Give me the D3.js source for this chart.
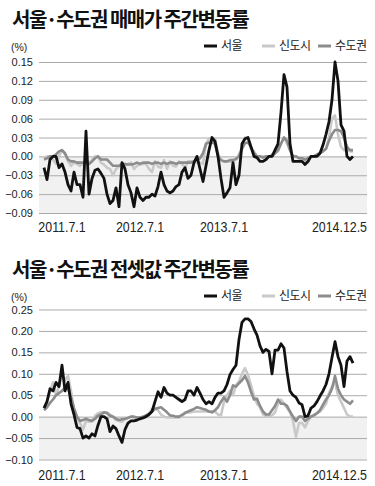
<!DOCTYPE html>
<html>
<head>
<meta charset="utf-8">
<script src="https://cdn.jsdelivr.net/npm/d3@7"></script>
<style>
  body { margin: 0; background: #fff; }
  text { font-family: "Liberation Sans", Arial, sans-serif; }
  .kr { font-family: "Noto Sans CJK KR", "Noto Sans", sans-serif; }
</style>
</head>
<body>
<svg id="chart"></svg>
<script>
const width = 375;
const height = 486;

// series names and colours follow the legend order
const seriesNames = ["서울", "신도시", "수도권"];
const seriesColors = ["#111", "#c9c9c9", "#8c8c8c"];

// x axis: week index of the samples the labels sit under
const xLabels = ["2011.7.1", "2012.7.1", "2013.7.1", "2014.12.5"];
const xLabelAt = [6, 32, 60, 99];

// 매매가 주간변동률 (%)
const saleSeoul = [
  -0.018, -0.037, -0.005, 0.0, 0.0, -0.018, -0.012, -0.025, -0.045, -0.055,
  -0.025, -0.045, -0.045, -0.065, 0.04, -0.06, -0.035, -0.022, -0.02, -0.027,
  -0.035, -0.06, -0.075, -0.07, -0.05, -0.08, -0.01, -0.02, -0.045, -0.058,
  -0.08, -0.05, -0.065, -0.07, -0.065, -0.065, -0.06, -0.063, -0.048, -0.025,
  -0.045, -0.055, -0.058, -0.055, -0.048, -0.045, -0.025, -0.018, -0.035, -0.03,
  -0.01, 0.0, -0.02, -0.04, -0.015, 0.01, 0.03, 0.024, 0.0, -0.035,
  -0.065, -0.058, -0.05, -0.01, -0.045, -0.03, 0.02, 0.028, 0.03, 0.015,
  0.0, -0.002, -0.008, -0.008, -0.005, 0.0, 0.0, 0.01, 0.02, 0.07,
  0.13, 0.11, 0.02, -0.008, -0.008, -0.008, -0.008, -0.013, -0.008, 0.0,
  0.0, 0.0, 0.005, 0.018, 0.035, 0.055, 0.09, 0.15, 0.12, 0.05,
  0.04, 0.0, -0.005, 0.0
];
const saleNewTown = [
  -0.003, 0.0, 0.0, -0.005, -0.012, 0.0, 0.01, 0.003, -0.008, -0.015,
  -0.01, -0.012, -0.015, -0.012, -0.01, -0.01, -0.006, 0.0, 0.0, -0.01,
  -0.013, -0.018, -0.02, -0.03, -0.02, -0.016, -0.012, -0.015, -0.012, -0.01,
  -0.02, -0.015, -0.013, -0.012, -0.012, -0.02, -0.025, -0.008, -0.016, -0.018,
  -0.006, -0.02, -0.008, -0.015, -0.016, -0.008, -0.012, -0.018, -0.008, -0.008,
  -0.008, -0.01, -0.01, -0.012, 0.02, 0.028, 0.03, 0.028, 0.005, -0.006,
  -0.008, -0.008, -0.008, -0.008, -0.005, 0.003, 0.015, 0.03, 0.028, 0.012,
  0.008, 0.0, 0.0, 0.0, 0.0, 0.0, 0.003, 0.005, 0.008, 0.02,
  0.03, 0.02, 0.01, 0.0, 0.0, -0.003, -0.005, -0.008, -0.01, 0.0,
  0.0, 0.003, 0.005, 0.008, 0.012, 0.03, 0.06, 0.065, 0.035, 0.015,
  0.01, 0.01, 0.008, 0.008
];
const saleMetro = [
  -0.005, -0.003, 0.0, 0.0, 0.003, 0.008, 0.01, 0.005, -0.005, -0.008,
  -0.008, -0.01, -0.01, -0.01, -0.01, -0.012, -0.008, -0.003, 0.0, -0.005,
  -0.005, -0.005, -0.01, -0.015, -0.015, -0.015, -0.012, -0.012, -0.013, -0.013,
  -0.012, -0.01, -0.012, -0.01, -0.01, -0.01, -0.012, -0.01, -0.01, -0.012,
  -0.01, -0.012, -0.01, -0.01, -0.012, -0.01, -0.01, -0.01, -0.01, -0.01,
  -0.008, -0.005, -0.003, 0.005, 0.02, 0.022, 0.022, 0.02, 0.0, -0.006,
  -0.008, -0.008, -0.006, -0.006, -0.004, 0.0, 0.012, 0.021, 0.022, 0.015,
  0.005, 0.0, 0.0, -0.002, 0.0, 0.0, 0.0, 0.005, 0.01, 0.02,
  0.03, 0.025, 0.01, 0.0, 0.0, -0.003, -0.003, -0.005, -0.003, 0.0,
  0.0, 0.003, 0.005, 0.008, 0.012, 0.025, 0.035, 0.042, 0.042, 0.04,
  0.03, 0.015, 0.01, 0.01
];

// 전셋값 주간변동률 (%)
const rentSeoul = [
  0.02, 0.035, 0.065, 0.06, 0.08, 0.07, 0.12, 0.06, 0.08, 0.03,
  0.005, -0.025, -0.028, -0.05, -0.045, -0.05, -0.04, -0.045, -0.02, 0.0,
  0.0, -0.005, -0.035, -0.022, -0.028, -0.045, -0.06, -0.03, -0.015, -0.01,
  -0.01, -0.008, -0.005, -0.003, 0.0, 0.005, 0.012, 0.035, 0.058, 0.045,
  0.068, 0.055, 0.05, 0.05, 0.045, 0.04, 0.035, 0.04, 0.06, 0.06,
  0.05, 0.068, 0.055, 0.04, 0.03, 0.035, 0.03, 0.045, 0.055, 0.055,
  0.06, 0.075, 0.098, 0.11, 0.12, 0.18, 0.22, 0.228, 0.228, 0.222,
  0.205, 0.19, 0.165, 0.15, 0.157, 0.152, 0.1, 0.155, 0.155, 0.17,
  0.16, 0.105, 0.06, 0.05, 0.045, 0.032, 0.028, 0.0, 0.002, 0.02,
  0.025, 0.035, 0.048, 0.06, 0.075, 0.1, 0.138, 0.175, 0.14, 0.12,
  0.07, 0.13, 0.14, 0.125
];
const rentNewTown = [
  0.02, 0.035, 0.06, 0.08, 0.05, 0.07, 0.1, 0.085, 0.095, 0.06,
  0.015, 0.0, -0.015, -0.03, -0.01, -0.012, -0.01, 0.002, 0.008, 0.01,
  0.01, 0.01, 0.005, 0.0, -0.008, -0.01, -0.012, -0.005, -0.002, 0.0,
  -0.002, -0.005, -0.003, 0.0, 0.003, 0.008, 0.018, 0.02, 0.015, 0.005,
  0.0, -0.002, -0.002, -0.002, -0.002, -0.002, 0.0, 0.01, 0.01, 0.01,
  0.012, 0.012, 0.012, 0.012, 0.012, 0.012, 0.012, 0.012, 0.005, 0.003,
  0.035, 0.05, 0.06, 0.05, 0.073, 0.082, 0.1, 0.113, 0.097, 0.073,
  0.048, 0.03, 0.022, 0.005, 0.0, 0.0, 0.003, 0.01, 0.03, 0.04,
  0.03, 0.02, 0.01, -0.01, -0.047, -0.015, -0.015, -0.025, -0.01, 0.0,
  0.005, 0.008, 0.012, 0.02, 0.03, 0.055, 0.07, 0.08, 0.05, 0.035,
  0.02, 0.005, 0.0, 0.0
];
const rentMetro = [
  0.015, 0.022, 0.032, 0.04, 0.05, 0.055, 0.06, 0.068, 0.065, 0.045,
  0.02, 0.0, -0.01, -0.008, -0.005, -0.008, -0.01, -0.005, 0.002, 0.005,
  0.01, 0.008, 0.002, 0.0, -0.005, -0.008, -0.006, -0.005, -0.003, 0.0,
  0.0, -0.002, -0.002, 0.0, 0.003, 0.006, 0.012, 0.018, 0.02, 0.022,
  0.016, 0.01, 0.003, 0.002, 0.0, 0.0, 0.004, 0.008, 0.012, 0.015,
  0.018, 0.022, 0.02, 0.018, 0.016, 0.012, 0.01, 0.015, 0.022, 0.035,
  0.045, 0.035, 0.05, 0.073, 0.07, 0.078, 0.085, 0.095, 0.08, 0.058,
  0.04, 0.042, 0.025, 0.012, 0.005, 0.005, 0.015, 0.025, 0.04, 0.03,
  0.03, 0.025, 0.012, 0.0, -0.01, 0.0, 0.0, -0.01, -0.005, 0.0,
  0.003, 0.008, 0.015, 0.028, 0.04, 0.05, 0.065, 0.095, 0.065, 0.05,
  0.04, 0.035, 0.03, 0.038
];

const saleTicks = [0.15, 0.12, 0.09, 0.06, 0.03, 0, -0.03, -0.06, -0.09];
const rentTicks = [0.25, 0.2, 0.15, 0.1, 0.05, 0, -0.05, -0.1];

const svg = d3.select("#chart")
  .attr("width", width)
  .attr("height", height)
  .attr("viewBox", [0, 0, width, height]);

const gridLeft = 39, gridRight = 367;
const x = d3.scaleLinear()
  .domain([0, saleSeoul.length - 1])
  .range([44, 353]);

function drawPanel(cfg) {
  const g = svg.append("g");
  const y = d3.scaleLinear().domain(cfg.domain).range([cfg.bottom, cfg.top]);

  // title
  g.append("text")
    .attr("class", "kr")
    .attr("x", 12)
    .attr("y", cfg.titleY)
    .attr("font-size", 20)
    .attr("font-weight", 700)
    .attr("letter-spacing", -1.5)
    .attr("fill", "#111")
    .text(cfg.title);

  // unit
  g.append("text")
    .attr("x", 11)
    .attr("y", cfg.legendY + 5)
    .attr("font-size", 10.5)
    .attr("fill", "#222")
    .text("(%)");

  // legend
  const legendX = [204, 262, 318];
  const lg = g.append("g").selectAll("g")
    .data(seriesNames)
    .join("g")
      .attr("transform", (d, i) => `translate(${legendX[i]},${cfg.legendY})`);
  lg.append("line")
    .attr("x1", 0).attr("x2", 13)
    .attr("stroke", (d, i) => seriesColors[i])
    .attr("stroke-width", 3);
  lg.append("text")
    .attr("class", "kr")
    .attr("x", 17)
    .attr("dy", "0.36em")
    .attr("font-size", 12)
    .attr("letter-spacing", -0.5)
    .attr("fill", "#222")
    .text(d => d);

  // shaded negative band
  g.append("rect")
    .attr("x", gridLeft)
    .attr("y", y(0))
    .attr("width", gridRight - gridLeft)
    .attr("height", y(cfg.domain[0]) - y(0))
    .attr("fill", "#f1f1f1");

  // grid + y labels
  const yAxis = d3.axisLeft(y)
    .tickValues(cfg.ticks)
    .tickSize(-(gridRight - gridLeft))
    .tickPadding(6)
    .tickFormat(d3.format(".2f"));
  g.append("g")
    .attr("transform", `translate(${gridLeft},0)`)
    .call(yAxis)
    .call(a => a.select(".domain").remove())
    .call(a => a.selectAll(".tick line").attr("stroke", "#ababab").attr("stroke-width", 1))
    .call(a => a.selectAll(".tick text")
      .attr("font-size", 11)
      .attr("fill", "#222")
      .attr("font-family", "Liberation Sans, Arial, sans-serif"));

  // x labels, condensed like the print face
  g.append("g").selectAll("text")
    .data(xLabels)
    .join("text")
      .attr("transform", (d, i) => i === xLabels.length - 1
        ? `translate(${gridRight},${cfg.labelY}) scale(0.8,1)`
        : `translate(${x(xLabelAt[i])},${cfg.labelY}) scale(0.8,1)`)
      .attr("text-anchor", (d, i) => i === xLabels.length - 1 ? "end" : "middle")
      .attr("font-size", 15.5)
      .attr("fill", "#222")
      .text(d => d);

  // lines (light first, black on top)
  const line = d3.line()
    .x((d, i) => x(i))
    .y(d => y(d));
  const order = [1, 2, 0];
  g.append("g").selectAll("path")
    .data(order)
    .join("path")
      .attr("fill", "none")
      .attr("stroke", k => seriesColors[k])
      .attr("stroke-width", k => k === 0 ? 2.8 : 2.6)
      .attr("stroke-linejoin", "round")
      .attr("d", k => line(cfg.series[k]));
}

drawPanel({
  title: "서울·수도권 매매가 주간변동률",
  titleY: 27,
  legendY: 46,
  domain: [-0.09, 0.15],
  top: 62,
  bottom: 213,
  ticks: saleTicks,
  labelY: 232,
  series: [saleSeoul, saleNewTown, saleMetro]
});

drawPanel({
  title: "서울·수도권 전셋값 주간변동률",
  titleY: 277,
  legendY: 296,
  domain: [-0.10, 0.25],
  top: 309.5,
  bottom: 459.5,
  ticks: rentTicks,
  labelY: 480,
  series: [rentSeoul, rentNewTown, rentMetro]
});
</script>
</body>
</html>
